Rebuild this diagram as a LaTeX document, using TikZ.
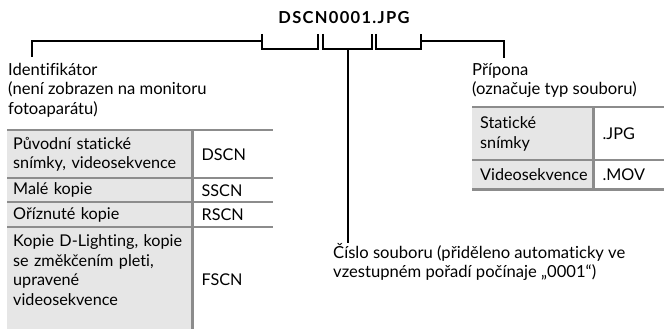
\documentclass[tikz,border=0pt]{standalone}
\usepackage{fontspec}
\setmainfont{Lato}[Ligatures=NoCommon]
\newfontfamily\titlefont[LetterSpace=8]{Lato}
\definecolor{cellgray}{HTML}{E6E6E6}
\definecolor{rulegray}{HTML}{8C8C8C}

\begin{document}
\begin{tikzpicture}[x=1pt, y=-1pt,
    txt/.style={anchor=north west, align=left, inner sep=0pt,
      font=\fontsize{16.6}{19.5}\selectfont},
    namecell/.style={anchor=north west, fill=cellgray, inner xsep=6pt, inner ysep=0pt,
      align=left, font=\fontsize{16.2}{19.5}\selectfont},
    codecell/.style={anchor=north west, inner xsep=9pt, inner ysep=0pt,
      align=left, font=\fontsize{16.2}{19.5}\selectfont},
    brk/.style={line width=2pt},
    rule/.style={rulegray, line width=2.5pt}]
  \useasboundingbox (0,0) rectangle (664,329);

  % file name
  \node[font=\titlefont\bfseries\fontsize{16.5}{18}\selectfont] (fname) at (344,18) {DSCN0001.JPG};

  % brackets under the name
  \coordinate (idL)  at (262,34);
  \coordinate (idR)  at (318,34);
  \coordinate (numL) at (323,34);
  \coordinate (numR) at (372,34);
  \coordinate (extL) at (376,34);
  \coordinate (extR) at (421,34);
  \draw[brk] (idL) |- (318,49) -- (idR);
  \draw[brk] (numL) |- (372,49) -- (numR);
  \draw[brk] (extL) |- (421,49) -- (extR);
  \coordinate (idJ)  at (262,41);
  \coordinate (numJ) at (348,49);
  \coordinate (extJ) at (421,41);

  % labels
  \node[txt] (ident) at (8,63) {Identifikátor\\(není zobrazen na monitoru\\fotoaparátu)};
  \node[txt] (ext) at (472,63) {Přípona\\(označuje typ souboru)};
  \node[txt] (num) at (333,243) {Číslo souboru (přiděleno automaticky ve\\vzestupném pořadí počínaje „0001“)};
  \coordinate (identT) at (32,57);
  \coordinate (extT) at (504,58);

  \draw[brk] (idJ) -| (identT);
  \draw[brk] (extJ) -| (extT);
  \draw[brk] (numJ) -- (numJ |- num.north);

  % prefix table
  \node[namecell, text width=173pt, minimum height=48pt] (p1) at (7,130) {Původní statické\\snímky, videosekvence};
  \node[namecell, text width=173pt, minimum height=24pt] (p2) at (7,178) {Malé kopie};
  \node[namecell, text width=173pt, minimum height=25pt] (p3) at (7,202) {Oříznuté kopie};
  \node[namecell, text width=173pt, minimum height=86pt] (p4) at (7,227) {Kopie D-Lighting, kopie\\se změkčením pleti,\\upravené\\videosekvence};
  \fill[cellgray] (p4.south west) rectangle (p4.east |- 0,329);
  \node[codecell, text width=62pt, minimum height=48pt]  (c1) at (p1.north east) {DSCN};
  \node[codecell, text width=62pt, minimum height=24pt]  (c2) at (p2.north east) {SSCN};
  \node[codecell, text width=62pt, minimum height=25pt]  (c3) at (p3.north east) {RSCN};
  \node[codecell, text width=62pt, minimum height=104pt] (c4) at (p4.north east) {FSCN};
  \draw[rule] (p1.north west) -- (c1.north east);
  \draw[rule] (p2.north west) -- (c2.north east);
  \draw[rule] (p3.north west) -- (c3.north east);
  \draw[rule] (p4.north west) -- (c4.north east);
  \draw[rule] (c1.north west) -- (c1.north west |- 0,329);

  % extension table
  \node[namecell, inner xsep=8pt, text width=105pt, minimum height=53pt] (s1) at (472,107) {Statické\\snímky};
  \node[namecell, inner xsep=8pt, text width=105pt, minimum height=29pt] (s2) at (472,160) {Videosekvence};
  \node[codecell, text width=53pt, minimum height=53pt] (e1) at (s1.north east) {.JPG};
  \node[codecell, text width=53pt, minimum height=29pt] (e2) at (s2.north east) {.MOV};
  \draw[rule] (s1.north west) -- (e1.north east);
  \draw[rule] (s2.north west) -- (e2.north east);
  \draw[rule] (s2.south west) -- (e2.south east);
  \draw[rule] (e1.north west) -- (e2.south west);
\end{tikzpicture}
\end{document}
